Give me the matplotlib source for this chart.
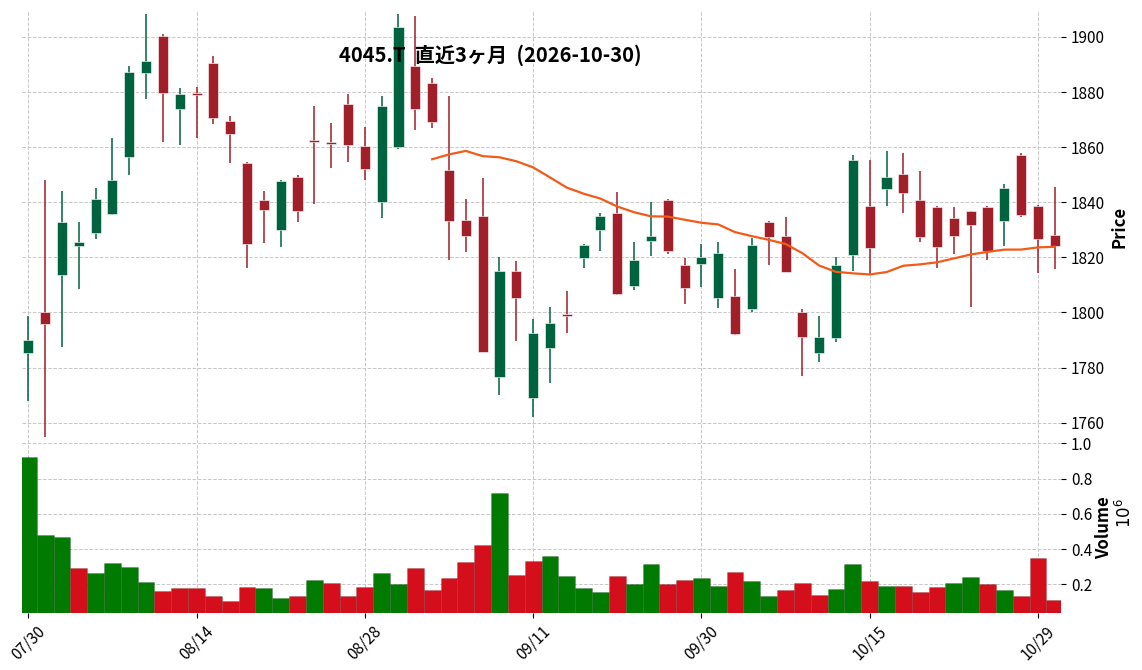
import matplotlib
matplotlib.use('Agg')
import matplotlib.pyplot as plt
from matplotlib.ticker import FuncFormatter
import numpy as np
import pandas as pd

plt.rcParams['font.family'] = ['Noto Sans CJK JP', 'DejaVu Sans']

# trading days (TSE), 2026-07-30 .. 2026-10-30
holidays = ['2026-08-11', '2026-09-21', '2026-09-22', '2026-09-23', '2026-10-12']
dates = pd.bdate_range('2026-07-30', '2026-10-30', freq='C', holidays=holidays)

opens = [1785.4, 1800.2, 1813.7, 1824.2, 1829.0, 1835.9, 1856.5, 1887.0, 1900.5, 1874.0,
         1879.5, 1890.6, 1869.5, 1854.3, 1840.8, 1830.0, 1849.2, 1862.1, 1861.8, 1875.7,
         1860.4, 1840.0, 1860.2, 1889.5, 1883.3, 1851.7, 1833.6, 1835.0, 1776.7, 1815.1,
         1769.1, 1787.2, 1799.1, 1819.9, 1830.0, 1836.2, 1809.7, 1826.0, 1840.8, 1817.2,
         1817.5, 1805.4, 1806.0, 1801.4, 1833.0, 1827.9, 1800.2, 1785.4, 1790.8, 1821.0,
         1838.7, 1844.9, 1850.3, 1840.8, 1838.3, 1834.3, 1836.8, 1838.3, 1833.3, 1857.2,
         1838.7, 1828.1]
highs = [1798.8, 1848.1, 1844.0, 1833.0, 1845.1, 1863.2, 1889.4, 1908.2, 1901.1, 1881.4,
         1881.7, 1893.0, 1871.2, 1854.5, 1844.0, 1848.0, 1849.9, 1874.8, 1868.7, 1879.2,
         1867.2, 1878.7, 1908.2, 1907.5, 1885.2, 1878.7, 1841.1, 1848.9, 1820.2, 1818.8,
         1797.5, 1801.9, 1807.9, 1824.8, 1836.0, 1843.6, 1825.5, 1840.0, 1841.0, 1819.7,
         1825.0, 1825.5, 1815.7, 1826.9, 1833.3, 1834.8, 1801.4, 1798.6, 1820.0, 1857.2,
         1855.2, 1858.5, 1857.8, 1851.2, 1838.5, 1838.2, 1837.0, 1838.5, 1846.6, 1857.8,
         1839.0, 1845.7]
lows = [1767.9, 1754.8, 1787.4, 1808.4, 1826.6, 1835.5, 1849.9, 1877.4, 1861.8, 1860.7,
        1863.4, 1868.3, 1854.2, 1816.0, 1825.1, 1823.8, 1832.7, 1839.4, 1852.3, 1854.5,
        1848.0, 1834.2, 1859.5, 1866.2, 1866.9, 1819.0, 1822.1, 1785.5, 1770.0, 1789.6,
        1762.0, 1774.3, 1792.4, 1816.0, 1822.3, 1806.5, 1808.0, 1820.5, 1821.1, 1803.0,
        1809.1, 1801.5, 1791.7, 1800.1, 1817.1, 1814.5, 1777.0, 1781.9, 1789.4, 1815.1,
        1813.9, 1838.5, 1836.0, 1825.5, 1816.0, 1821.1, 1801.9, 1819.0, 1824.1, 1834.7,
        1814.4, 1815.7]
closes = [1790.0, 1795.8, 1833.0, 1825.6, 1841.2, 1848.1, 1887.3, 1891.3, 1879.8, 1879.3,
          1879.0, 1870.7, 1864.9, 1825.0, 1837.2, 1847.7, 1836.9, 1861.8, 1861.0, 1860.9,
          1852.2, 1875.0, 1903.6, 1873.8, 1869.3, 1833.3, 1827.9, 1785.8, 1815.1, 1805.4,
          1792.4, 1796.2, 1798.8, 1824.5, 1835.0, 1806.8, 1819.0, 1827.8, 1822.4, 1809.0,
          1820.1, 1821.6, 1792.0, 1824.5, 1827.5, 1814.8, 1791.2, 1791.0, 1817.2, 1855.4,
          1823.5, 1849.2, 1843.5, 1827.5, 1823.9, 1827.9, 1831.8, 1822.3, 1845.1, 1835.5,
          1826.7, 1824.2]
volumes = [923000, 480000, 469000, 293000, 264000, 321000, 298000, 213000, 162000, 179000,
           179000, 134000, 105000, 185000, 179000, 122000, 134000, 224000, 207000, 134000,
           185000, 264000, 202000, 293000, 168000, 236000, 327000, 423000, 719000, 253000,
           332000, 361000, 247000, 179000, 156000, 247000, 202000, 316000, 202000, 224000,
           236000, 190000, 270000, 219000, 134000, 168000, 207000, 139000, 174000, 316000,
           219000, 190000, 190000, 156000, 185000, 207000, 241000, 202000, 168000, 134000,
           349000, 111000]

title = '4045.T  直近3ヶ月  (2026-10-30)'
ma_window = 25

up_c, down_c = '#006340', '#a01f28'
vol_up, vol_down = '#007a00', '#d40f1b'
ma_c = '#f25a1a'
grid_c = '#c8c8c8'

o = np.array(opens); h = np.array(highs); l = np.array(lows); c = np.array(closes)
v = np.array(volumes)
x = np.arange(len(c))
ma = pd.Series(c).rolling(ma_window).mean()

fig = plt.figure(figsize=(11.42, 6.70), dpi=100)
ax = fig.add_axes([0.0193, 0.3388, 0.9098, 0.6463])
axv = fig.add_axes([0.0193, 0.0855, 0.9098, 0.2533], sharex=ax)

# candles
up = c >= o
col = np.where(up, up_c, down_c)
ax.vlines(x, l, h, colors=col, linewidth=1.1, zorder=2)
body = np.maximum(np.abs(c - o), 0.7)
ax.bar(x, body, bottom=np.minimum(o, c), width=0.6, color=col,
       edgecolor='white', linewidth=0.4, zorder=3)
ax.plot(x, ma, color=ma_c, linewidth=1.6, zorder=4)

# volume, coloured by close vs previous close
prev = np.concatenate([[c[0]], c[:-1]])
vcol = np.where(c >= prev, vol_up, vol_down)
axv.bar(x, v, width=1.0, color=vcol, edgecolor='#00000030', linewidth=0.5, zorder=3)

ax.set_xlim(-0.37, len(c) - 1 + 0.37)
ax.set_ylim(1752.6, 1909.8)
axv.set_ylim(39000, 1002000)

ticks = x[::10]
axv.set_xticks(ticks)
axv.set_xticklabels([dates[i].strftime('%m/%d') for i in ticks], rotation=45,
                    ha='center', fontsize=11)
ax.set_yticks([1760, 1780, 1800, 1820, 1840, 1860, 1880, 1900])
axv.set_yticks([200000, 400000, 600000, 800000, 1000000])
axv.yaxis.set_major_formatter(FuncFormatter(lambda val, pos: f'{val / 1e6:.1f}'))

for a in (ax, axv):
    for s in a.spines.values():
        s.set_visible(False)
    a.yaxis.tick_right()
    a.yaxis.set_label_position('right')
    a.tick_params(axis='y', labelsize=11)
    a.grid(True, linestyle='--', color=grid_c, linewidth=0.7, zorder=0)
    a.set_axisbelow(True)
ax.tick_params(axis='x', bottom=False, labelbottom=False)

ax.set_ylabel('Price', fontsize=12, fontweight='bold', labelpad=4)
axv.set_ylabel('Volume', fontsize=12, fontweight='bold', labelpad=2)
fig.text(0.9855, 0.234, r'$10^6$', rotation=90, ha='center', va='center', fontsize=12)

fig.text(0.429, 0.918, title, ha='center', va='center', fontsize=14.5, fontweight='bold')

fig.savefig('out.png', dpi=100)
